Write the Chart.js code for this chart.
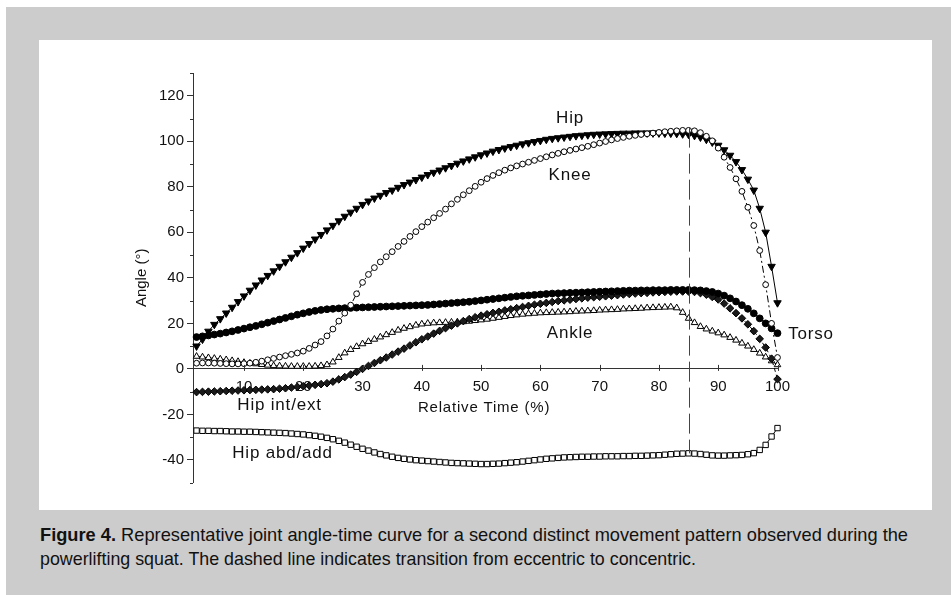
<!DOCTYPE html>
<html>
<head>
<meta charset="utf-8">
<script src="https://cdn.jsdelivr.net/npm/chart.js@4.4.1/dist/chart.umd.min.js"></script>
<style>
  body { margin: 0; background: #fff; width: 951px; height: 595px; overflow: hidden; position: relative; }
  #frame { position: absolute; left: 6px; top: 7px; right: 0; bottom: 0; background: #cccccc; }
  #panel { position: absolute; left: 39px; top: 40px; width: 893px; height: 470px; background: #fff; }
  #caption { position: absolute; left: 40px; top: 523px; font-family: "Liberation Sans", Arial, sans-serif;
             font-size: 19px; line-height: 24px; color: #111; }
  #caption div { white-space: nowrap; transform-origin: 0 0; width: max-content; }
</style>
</head>
<body>
<div id="frame"></div>
<div id="panel"><canvas id="angleChart" width="893" height="470"></canvas></div>
<div id="caption">
  <div id="cap1"><b>Figure 4.</b> Representative joint angle-time curve for a second distinct movement pattern observed during the</div>
  <div id="cap2">powerlifting squat. The dashed line indicates transition from eccentric to concentric.</div>
</div>
<script>
// relative time (%) of each sample
const timePct = [2,3,4,5,6,7,8,9,10,11,12,13,14,15,16,17,18,19,20,21,22,23,24,25,26,27,28,29,30,31,32,33,34,35,36,37,38,39,40,41,42,43,44,45,46,47,48,49,50,51,52,53,54,55,56,57,58,59,60,61,62,63,64,65,66,67,68,69,70,71,72,73,74,75,76,77,78,79,80,81,82,83,84,85,86,87,88,89,90,91,92,93,94,95,96,97,98,99,100];

const hip = [10,13,16.5,19.5,22,24.5,27,29.5,32,34.5,36.8,39,41,43,45,47,49,51,53,55,57,59,61,63,65,67,68.8,70.5,72.2,73.7,75,76.2,77.4,78.5,79.7,80.9,82,83.1,84.2,85.3,86.3,87.3,88.3,89.3,90.3,91.3,92.2,93.1,94,94.8,95.6,96.3,97,97.6,98.2,98.8,99.3,99.8,100.3,100.8,101.2,101.5,101.8,102.1,102.4,102.6,102.8,103,103.1,103.2,103.3,103.4,103.5,103.5,103.6,103.6,103.6,103.6,103.6,103.5,103.5,103.4,103.2,103,102.5,101.8,100.8,99.6,98.2,96.2,93.8,91,87.5,83.3,78.5,70.5,60,45,29];

const knee = [2.5,2.6,2.6,2.5,2.4,2.3,2.2,2.2,2.3,2.5,2.9,3.4,4,4.6,5.2,5.8,6.4,7,7.8,9,10.5,12,14.5,17.5,21,24.5,28,33,38,41.5,44.5,47,49.3,51.5,53.8,56,58.2,60.3,62.5,64.5,66.4,68.3,70.2,72.5,74.5,76.5,78.3,80.2,82,83.6,85,86.2,87.3,88.3,89.2,90,90.8,91.6,92.4,93.2,94,94.7,95.4,96,96.6,97.2,97.8,98.5,99.2,99.9,100.6,101.2,101.7,102.2,102.6,103,103.3,103.6,103.9,104.2,104.4,104.6,104.8,104.8,104.6,103.8,102.2,100.2,97,93,88.5,83.5,78,71,63,52,37,20,5];

const torso = [14,14.3,14.7,15.1,15.5,16,16.5,17.1,17.7,18.3,18.9,19.6,20.3,21,21.7,22.4,23.1,23.8,24.4,25,25.5,25.9,26.2,26.4,26.6,26.7,26.8,26.9,27,27.1,27.2,27.3,27.4,27.5,27.6,27.7,27.8,27.9,28,28.1,28.3,28.5,28.7,28.9,29.1,29.3,29.5,29.8,30.1,30.4,30.7,31,31.3,31.6,31.9,32.1,32.3,32.5,32.7,32.9,33.1,33.2,33.3,33.4,33.5,33.6,33.7,33.8,33.9,34,34.1,34.2,34.3,34.4,34.4,34.5,34.5,34.6,34.6,34.6,34.7,34.7,34.7,34.7,34.6,34.5,34.2,33.8,33.1,32.2,31,29.6,28,26.4,24.4,22.2,20,17.8,15.7];

const ankle = [5.5,5.2,4.9,4.6,4.3,4,3.6,3.2,2.8,2.5,2.2,1.9,1.6,1.4,1.3,1.2,1.1,1.1,1.1,1.1,1.2,1.4,1.8,3,5,7,8.5,9.8,11,12,13,14,15,16,17,17.8,18.5,19.2,19.7,20,20.2,20.3,20.4,20.5,20.6,20.7,20.9,21.2,21.5,21.8,22.2,22.6,23,23.4,23.7,24,24.2,24.4,24.6,24.7,24.8,24.9,25,25.1,25.3,25.4,25.5,25.6,25.8,25.9,26,26.1,26.3,26.4,26.5,26.6,26.8,26.9,27,27.1,27.2,26.8,24.8,22.2,20.3,18.6,17.5,16.6,15.8,14.9,13.8,12.6,11.3,10,8.5,6.9,5.2,3.5,1.8];

const hipIntExt = [-10.2,-10.1,-10,-9.9,-9.8,-9.7,-9.6,-9.5,-9.4,-9.3,-9.2,-9.1,-9,-8.9,-8.7,-8.5,-8.2,-7.9,-7.6,-7.3,-7,-6.7,-6.3,-5.6,-4.6,-3.6,-2.5,-1.3,0,1.3,2.6,3.8,5,6.3,7.6,8.9,10.3,11.7,13,14.2,15.5,16.7,17.9,19,20,21,21.9,22.7,23.4,24,24.6,25.1,25.7,26.2,26.7,27.2,27.7,28.2,28.6,29,29.4,29.8,30.1,30.4,30.7,31,31.3,31.5,31.7,31.9,32.2,32.4,32.7,32.9,33.1,33.3,33.4,33.6,33.7,33.8,33.9,34,34,34,33.8,33.3,32.6,31.6,30.5,28.7,26.6,24.5,22.2,19.6,16.6,13.2,9.4,4.5,-4.5];

const hipAbdAdd = [-27.1,-27.2,-27.2,-27.3,-27.3,-27.4,-27.5,-27.5,-27.6,-27.6,-27.7,-27.8,-27.9,-28,-28.1,-28.2,-28.4,-28.6,-28.8,-29.1,-29.4,-29.8,-30.3,-30.9,-31.6,-32.4,-33.3,-34.2,-35.1,-35.9,-36.7,-37.4,-38,-38.6,-39.1,-39.5,-39.8,-40.1,-40.3,-40.5,-40.7,-40.9,-41.1,-41.3,-41.4,-41.5,-41.6,-41.7,-41.8,-41.8,-41.7,-41.6,-41.4,-41.2,-41,-40.7,-40.4,-40.1,-39.8,-39.5,-39.3,-39.1,-38.9,-38.8,-38.7,-38.6,-38.6,-38.5,-38.5,-38.4,-38.4,-38.4,-38.3,-38.3,-38.2,-38.2,-38.1,-38,-37.9,-37.7,-37.5,-37.3,-37.2,-37.1,-37.2,-37.4,-37.7,-38,-38.1,-38.1,-38,-37.9,-37.8,-37.5,-37,-35.6,-33.4,-29.7,-26];

const xTicks = [10,20,30,40,50,60,70,80,90,100];
const yTicks = [-50,-40,-30,-20,-10,0,10,20,30,40,50,60,70,80,90,100,110,120,130];
const transitionPct = 85;
const transitionTop = 106;

// curve names and x title, placed at data coordinates
const curveLabels = [
    { text: 'Hip', x: 65, y: 110, align: 'center', size: 17 },
    { text: 'Knee', x: 65, y: 85, align: 'center', size: 17 },
    { text: 'Ankle', x: 65, y: 15.5, align: 'center', size: 17 },
    { text: 'Torso', x: 101.8, y: 15, align: 'left', size: 17 },
    { text: 'Hip int/ext', x: 16, y: -16, align: 'center', size: 17 },
    { text: 'Hip abd/add', x: 16.5, y: -37, align: 'center', size: 17 },
    { text: 'Relative Time (%)', x: 50.5, y: -17.2, align: 'center', size: 15 }
];

function pts(values) {
    return timePct.map(function(t, i) { return { x: t, y: values[i] }; });
}

const font = '"Liberation Sans", Arial, sans-serif';

const figurePlugin = {
    id: 'figureExtras',
    afterDraw: function(chart) {
        const ctx = chart.ctx;
        const xs = chart.scales.x;
        const ys = chart.scales.y;
        ctx.save();
        ctx.strokeStyle = '#333';
        ctx.lineWidth = 1;
        // x ticks on the zero line
        const y0 = ys.getPixelForValue(0);
        xTicks.forEach(function(t) {
            const px = Math.round(xs.getPixelForValue(t)) + 0.5;
            ctx.beginPath();
            ctx.moveTo(px, y0 - 4);
            ctx.lineTo(px, y0 + 2);
            ctx.stroke();
        });
        // minor y ticks
        const left = chart.chartArea.left;
        yTicks.forEach(function(t) {
            if (t % 20 !== 0) {
                const py = Math.round(ys.getPixelForValue(t)) + 0.5;
                ctx.beginPath();
                ctx.moveTo(left - 3, py);
                ctx.lineTo(left, py);
                ctx.stroke();
            }
        });
        // eccentric / concentric transition
        const tx = Math.round(xs.getPixelForValue(transitionPct)) + 0.5;
        const bottom = hipAbdAdd[timePct.indexOf(transitionPct)];
        ctx.strokeStyle = '#444';
        ctx.setLineDash([20, 6]);
        ctx.beginPath();
        ctx.moveTo(tx, ys.getPixelForValue(transitionTop));
        ctx.lineTo(tx, ys.getPixelForValue(bottom));
        ctx.stroke();
        ctx.setLineDash([]);
        // curve names
        ctx.fillStyle = '#111';
        ctx.textBaseline = 'middle';
        if ('letterSpacing' in ctx) ctx.letterSpacing = '0.8px';
        curveLabels.forEach(function(l) {
            ctx.font = l.size + 'px ' + font;
            ctx.textAlign = l.align;
            ctx.fillText(l.text, xs.getPixelForValue(l.x), ys.getPixelForValue(l.y));
        });
        ctx.restore();
    }
};

document.addEventListener('DOMContentLoaded', function() {
    // condensed caption look: squeeze each line to its printed width
    const cap1 = document.getElementById('cap1');
    const cap2 = document.getElementById('cap2');
    cap1.style.transform = 'scaleX(' + (868 / cap1.getBoundingClientRect().width) + ')';
    cap2.style.transform = 'scaleX(' + (656 / cap2.getBoundingClientRect().width) + ')';

    const ctx = document.getElementById('angleChart').getContext('2d');
    new Chart(ctx, {
        type: 'line',
        data: {
            datasets: [{
                label: 'Knee',
                data: pts(knee),
                borderColor: '#000',
                borderWidth: 1,
                borderDash: [7, 3, 2, 3],
                pointStyle: 'circle',
                pointRadius: 2.9,
                pointBackgroundColor: '#fff',
                pointBorderColor: '#000',
                pointBorderWidth: 1
            }, {
                label: 'Hip',
                data: pts(hip),
                borderColor: '#000',
                borderWidth: 1,
                pointStyle: 'triangle',
                pointRotation: 180,
                pointRadius: 4.3,
                pointBackgroundColor: '#000',
                pointBorderColor: '#000',
                pointBorderWidth: 1
            }, {
                label: 'Torso',
                data: pts(torso),
                borderColor: '#000',
                borderWidth: 1,
                pointStyle: 'circle',
                pointRadius: 3.4,
                pointBackgroundColor: '#000',
                pointBorderColor: '#000',
                pointBorderWidth: 1
            }, {
                label: 'Hip int/ext',
                data: pts(hipIntExt),
                borderColor: '#000',
                borderWidth: 1,
                borderDash: [4, 3],
                pointStyle: 'rectRot',
                pointRadius: 3.8,
                pointBackgroundColor: '#1a1a1a',
                pointBorderColor: '#000',
                pointBorderWidth: 1
            }, {
                label: 'Ankle',
                data: pts(ankle),
                borderColor: '#000',
                borderWidth: 1,
                pointStyle: 'triangle',
                pointRadius: 3.8,
                pointBackgroundColor: '#fff',
                pointBorderColor: '#000',
                pointBorderWidth: 1
            }, {
                label: 'Hip abd/add',
                data: pts(hipAbdAdd),
                borderColor: '#000',
                borderWidth: 1,
                pointStyle: 'rect',
                pointRadius: 3.8,
                pointBackgroundColor: '#fff',
                pointBorderColor: '#000',
                pointBorderWidth: 1
            }]
        },
        options: {
            responsive: false,
            animation: false,
            clip: false,
            layout: {
                padding: { left: 90, right: 154.5, top: 33, bottom: 27.3 }
            },
            scales: {
                x: {
                    type: 'linear',
                    position: { y: 0 },
                    min: 1.4,
                    max: 100,
                    afterBuildTicks: function(scale) {
                        scale.ticks = xTicks.map(function(v) { return { value: v }; });
                    },
                    grid: { display: false, drawTicks: false },
                    border: { display: true, color: '#333', width: 1 },
                    ticks: {
                        padding: 9,
                        color: '#111',
                        font: { family: font, size: 15 },
                        maxRotation: 0
                    }
                },
                y: {
                    min: -50,
                    max: 130,
                    afterBuildTicks: function(scale) {
                        scale.ticks = yTicks.map(function(v) { return { value: v }; });
                    },
                    afterFit: function(scale) { scale.width = 64; },
                    grid: {
                        display: true,
                        drawOnChartArea: false,
                        drawTicks: true,
                        tickLength: 6,
                        tickColor: function(c) {
                            return (c.tick && c.tick.value % 20 === 0) ? '#333' : 'rgba(0,0,0,0)';
                        }
                    },
                    border: { display: true, color: '#333', width: 1 },
                    ticks: {
                        padding: 3,
                        color: '#111',
                        font: { family: font, size: 15 },
                        callback: function(v) {
                            return (v % 20 === 0 && v >= -40 && v <= 120) ? String(v) : '';
                        }
                    },
                    title: {
                        display: true,
                        text: 'Angle (°)',
                        color: '#111',
                        font: { family: font, size: 15 },
                        padding: { top: 4, bottom: 4 }
                    }
                }
            },
            plugins: {
                legend: { display: false },
                tooltip: { enabled: false }
            }
        },
        plugins: [figurePlugin]
    });
});
</script>
</body>
</html>
